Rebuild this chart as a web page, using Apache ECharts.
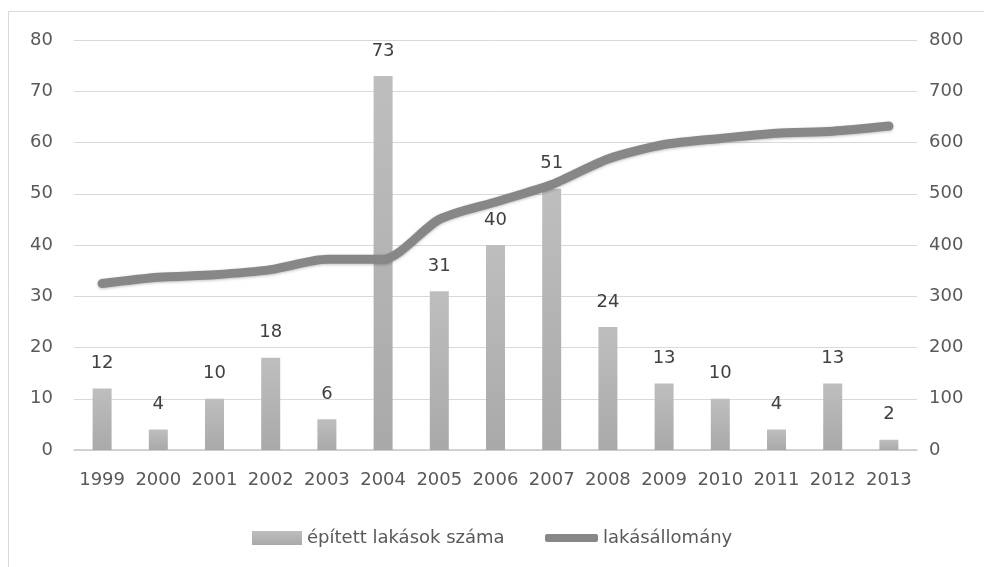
<!DOCTYPE html>
<html>
<head>
<meta charset="utf-8">
<title>lakások</title>
<script src="https://cdn.jsdelivr.net/npm/echarts@6/dist/echarts.min.js"></script>
<style>
  html, body { margin: 0; padding: 0; background: #fff; }
  #chart { width: 984px; height: 567px; }
</style>
</head>
<body>
<div id="chart"></div>
<script>
// adatok
const years = ['1999', '2000', '2001', '2002', '2003', '2004', '2005', '2006',
  '2007', '2008', '2009', '2010', '2011', '2012', '2013']
const builtFlats = [12, 4, 10, 18, 6, 73, 31, 40, 51, 24, 13, 10, 4, 13, 2]
const flatStock = [325, 337, 342, 352, 372, 372, 450, 484, 518, 568, 596, 608, 618, 622, 632]

const fontFamily = 'DejaVu Sans'
const labelColor = '#595959'
const lineColor = '#878787'

const chart = echarts.init(document.getElementById('chart'))

const option = {
  backgroundColor: '#fff',
  animation: false,
  textStyle: { fontFamily: fontFamily },
  // keret a diagram körül
  graphic: [
    {
      type: 'rect',
      silent: true,
      shape: { x: 8.5, y: 11.5, width: 1000, height: 600 },
      style: { fill: 'none', stroke: '#d9d9d9', lineWidth: 1 }
    }
  ],
  grid: {
    left: 74,
    right: 67,
    top: 40,
    bottom: 117
  },
  // két külön jelmagyarázat, hogy a vonal ikonja vékonyabb lehessen
  legend: [
    {
      top: 524,
      left: 247,
      itemWidth: 50,
      itemHeight: 14,
      textStyle: { fontSize: 18, color: labelColor, fontFamily: fontFamily },
      data: [{ name: 'épített lakások száma', icon: 'rect' }]
    },
    {
      top: 524,
      left: 540,
      itemWidth: 53,
      itemHeight: 8,
      textStyle: { fontSize: 18, color: labelColor, fontFamily: fontFamily },
      data: [{ name: 'lakásállomány', icon: 'roundRect', itemStyle: { color: lineColor } }]
    }
  ],
  xAxis: {
    type: 'category',
    data: years,
    axisTick: { show: false },
    axisLine: { lineStyle: { color: '#c8c8c8', width: 1.5 } },
    axisLabel: { color: labelColor, fontSize: 18, margin: 21, interval: 0 }
  },
  yAxis: [
    {
      type: 'value',
      min: 0,
      max: 80,
      interval: 10,
      axisLine: { show: false },
      axisTick: { show: false },
      axisLabel: { color: labelColor, fontSize: 18, margin: 21 },
      splitLine: { lineStyle: { color: '#d9d9d9' } }
    },
    {
      type: 'value',
      min: 0,
      max: 800,
      interval: 100,
      axisLine: { show: false },
      axisTick: { show: false },
      axisLabel: { color: labelColor, fontSize: 18, margin: 12 },
      splitLine: { show: false }
    }
  ],
  series: [
    {
      name: 'épített lakások száma',
      type: 'bar',
      yAxisIndex: 0,
      data: builtFlats,
      barWidth: 19,
      itemStyle: {
        color: new echarts.graphic.LinearGradient(0, 0, 0, 1, [
          { offset: 0, color: '#bebebe' },
          { offset: 1, color: '#a9a9a9' }
        ])
      },
      label: {
        show: true,
        position: 'top',
        distance: 16,
        color: '#404040',
        fontSize: 18
      },
      z: 2
    },
    {
      name: 'lakásállomány',
      type: 'line',
      yAxisIndex: 1,
      data: flatStock,
      symbol: 'none',
      smooth: 0.25,
      lineStyle: {
        color: lineColor,
        width: 9,
        cap: 'round',
        join: 'round',
        shadowColor: 'rgba(0,0,0,0.25)',
        shadowBlur: 3,
        shadowOffsetY: 1
      },
      itemStyle: { color: lineColor },
      z: 3
    }
  ]
}

chart.setOption(option)
</script>
</body>
</html>
